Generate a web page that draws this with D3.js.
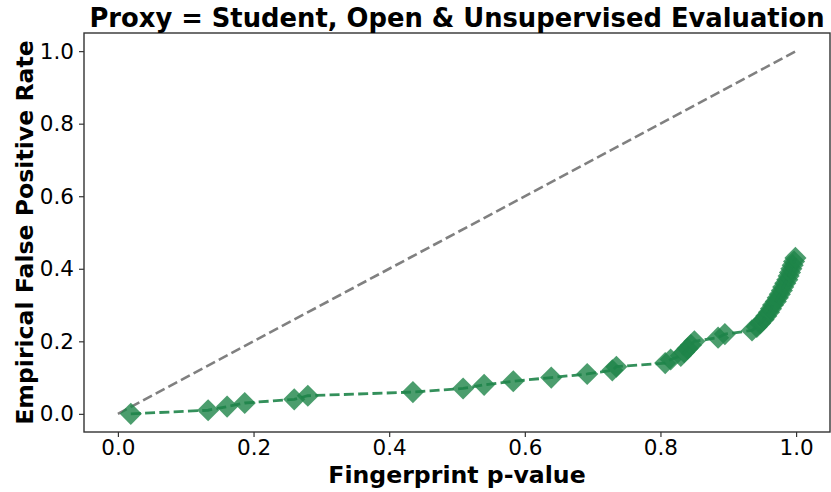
<!DOCTYPE html>
<html lang="en">
<head>
  <meta charset="utf-8">
  <title>Proxy = Student, Open & Unsupervised Evaluation</title>
  <script src="https://cdn.jsdelivr.net/npm/d3@7"></script>
  <style>
    body { margin: 0; background: #fff; }
    text { font-family: "DejaVu Sans", sans-serif; }
  </style>
</head>
<body>
  <svg class="chart" width="831" height="492"></svg>
  <script>
    var width = 831, height = 492;
    var margin = { top: 33, right: 1, bottom: 60, left: 84 };

    // sorted fingerprint p-values and matching empirical FPR
    var pValues = [0.019, 0.133, 0.161, 0.187, 0.260, 0.280, 0.435, 0.509, 0.540, 0.583,
                   0.639, 0.692, 0.729, 0.735, 0.807, 0.815, 0.830, 0.835, 0.840, 0.845,
                   0.850, 0.885, 0.895, 0.935, 0.942, 0.947, 0.952, 0.956, 0.960, 0.963,
                   0.966, 0.970, 0.973, 0.976, 0.979, 0.981, 0.984, 0.987, 0.989, 0.991,
                   0.993, 0.995, 0.997, 0.999];
    var fpr = [0.00, 0.01, 0.02, 0.03, 0.04, 0.05, 0.06, 0.07, 0.08, 0.09,
               0.10, 0.11, 0.12, 0.13, 0.14, 0.15, 0.16, 0.17, 0.18, 0.19,
               0.20, 0.21, 0.22, 0.23, 0.24, 0.25, 0.26, 0.27, 0.28, 0.29,
               0.30, 0.31, 0.32, 0.33, 0.34, 0.35, 0.36, 0.37, 0.38, 0.39,
               0.40, 0.41, 0.42, 0.43];
    var diagonal = [0, 1];
    var xTicks = [0, 0.2, 0.4, 0.6, 0.8, 1.0];
    var yTicks = [0, 0.2, 0.4, 0.6, 0.8, 1.0];

    var data = pValues.map(function(p, i) { return { p: p, fpr: fpr[i] }; });

    var x = d3.scaleLinear()
              .domain([-0.05, 1.05])
              .range([margin.left, width - margin.right]);
    var y = d3.scaleLinear()
              .domain([-0.05, 1.05])
              .range([height - margin.bottom, margin.top]);

    var svg = d3.select("svg.chart");

    // reference diagonal
    svg.append("path")
       .datum(diagonal)
       .attr("d", d3.line().x(function(d) { return x(d); }).y(function(d) { return y(d); }))
       .attr("fill", "none")
       .attr("stroke", "#808080")
       .attr("stroke-width", 2.6)
       .attr("stroke-dasharray", "10,4.3");

    // markers
    var diamond = d3.symbol().type(d3.symbolSquare).size(245);
    svg.append("g")
       .selectAll("path")
       .data(data)
       .enter().append("path")
       .attr("d", diamond)
       .attr("transform", function(d) { return "translate(" + x(d.p) + "," + y(d.fpr) + ") rotate(45)"; })
       .attr("fill", "#1e8449")
       .attr("fill-opacity", 0.8);

    // dashed connecting line
    svg.append("path")
       .datum(data)
       .attr("d", d3.line().x(function(d) { return x(d.p); }).y(function(d) { return y(d.fpr); }))
       .attr("fill", "none")
       .attr("stroke", "#1e8449")
       .attr("stroke-opacity", 0.9)
       .attr("stroke-width", 2.8)
       .attr("stroke-dasharray", "10,4.3");

    // axes
    var xAxis = svg.append("g")
       .attr("transform", "translate(0," + (height - margin.bottom) + ")")
       .call(d3.axisBottom(x).tickValues(xTicks).tickFormat(d3.format(".1f")).tickSize(5).tickPadding(3));
    var yAxis = svg.append("g")
       .attr("transform", "translate(" + margin.left + ",0)")
       .call(d3.axisLeft(y).tickValues(yTicks).tickFormat(d3.format(".1f")).tickSize(5).tickPadding(5));

    [xAxis, yAxis].forEach(function(g) {
      g.select(".domain").remove();
      g.selectAll(".tick line").attr("stroke", "#333").attr("stroke-width", 1.2);
      g.selectAll(".tick text").attr("font-size", 21.5).attr("fill", "#000")
       .style("font-family", "DejaVu Sans, sans-serif");
    });

    // frame
    svg.append("rect")
       .attr("x", margin.left)
       .attr("y", margin.top)
       .attr("width", width - margin.left - margin.right)
       .attr("height", height - margin.top - margin.bottom)
       .attr("fill", "none")
       .attr("stroke", "#333")
       .attr("stroke-width", 1.4);

    // labels
    svg.append("text")
       .attr("x", (margin.left + width - margin.right) / 2)
       .attr("y", 27)
       .attr("text-anchor", "middle")
       .attr("font-size", 25.8)
       .attr("font-weight", "bold")
       .text("Proxy = Student, Open & Unsupervised Evaluation");

    svg.append("text")
       .attr("x", (margin.left + width - margin.right) / 2)
       .attr("y", 483)
       .attr("text-anchor", "middle")
       .attr("font-size", 23.6)
       .attr("font-weight", "bold")
       .text("Fingerprint p-value");

    svg.append("text")
       .attr("transform", "translate(33," + ((margin.top + height - margin.bottom) / 2) + ") rotate(-90)")
       .attr("text-anchor", "middle")
       .attr("font-size", 23.6)
       .attr("font-weight", "bold")
       .text("Empirical False Positive Rate");
  </script>
</body>
</html>
